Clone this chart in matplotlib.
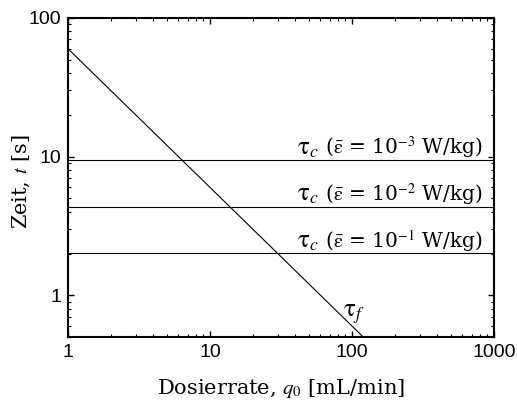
import numpy as np
import matplotlib
matplotlib.use('Agg')
import matplotlib.pyplot as plt
import matplotlib.transforms as mtransforms

# data
q0 = np.array([1.0, 1000.0])          # Dosierrate [mL/min]
tau_f_coef = 60.0                      # tau_f = coef / q0  [s]
tau_c = [9.45, 4.35, 2.02]             # mixing times [s]
eps_exp = ['-3', '-2', '-1']           # epsilon = 10^exp W/kg

plt.rcParams['mathtext.fontset'] = 'stix'

fig = plt.figure(figsize=(5.17, 4.0), dpi=100)
ax = fig.add_axes([0.1315, 0.1575, 0.824, 0.7975])

tau_f = tau_f_coef / q0
ax.plot(q0, tau_f, color='black', lw=0.8)

trans = mtransforms.blended_transform_factory(ax.transAxes, ax.transData)
rest_texts = []
for t, e in zip(tau_c, eps_exp):
    ax.axhline(t, color='black', lw=0.8)
    txt = ax.annotate(r' ($\bar{\mathrm{\varepsilon}}$ = 10$^{\mathrm{%s}}$ W/kg)' % e,
                      xy=(0.972, t), xycoords=trans, xytext=(0, 4),
                      textcoords='offset points',
                      ha='right', va='baseline', fontsize=14.5, family='DejaVu Serif')
    rest_texts.append(txt)

# put a larger tau in front of each label
fig.canvas.draw()
renderer = fig.canvas.get_renderer()
for txt, t in zip(rest_texts, tau_c):
    w = txt.get_window_extent(renderer).width * 72 / fig.dpi
    ax.annotate(r'$\mathrm{\tau}_c$', xy=(0.972, t), xycoords=trans,
                xytext=(-w, 4), textcoords='offset points',
                ha='right', va='baseline', fontsize=18)

ax.text(86, 0.6, r'$\mathrm{\tau}_f$', fontsize=18, ha='left', va='bottom')

ax.set_xscale('log')
ax.set_yscale('log')
ax.set_xlim(1, 1000)
ax.set_ylim(0.5, 100)
ax.set_xticks([1, 10, 100, 1000])
ax.set_xticklabels(['1', '10', '100', '1000'])
ax.set_yticks([1, 10, 100])
ax.set_yticklabels(['1', '10', '100'])

for lab in ax.get_xticklabels() + ax.get_yticklabels():
    lab.set_family('Liberation Sans')
    lab.set_fontsize(14)

ax.tick_params(which='both', direction='in', top=True, right=True)
ax.tick_params(which='major', length=4, width=1, pad=5)
ax.tick_params(which='minor', length=2, width=0.8)
for s in ax.spines.values():
    s.set_linewidth(1.5)

ax.set_xlabel(r'Dosierrate, $q_0$ [mL/min]', family='DejaVu Serif', fontsize=15)
ax.set_ylabel(r'Zeit, $t$ [s]', family='DejaVu Serif', fontsize=15)
ax.xaxis.set_label_coords(0.5, -0.125)
ax.yaxis.set_label_coords(-0.085, 0.486)

fig.savefig('out.png', dpi=100)
